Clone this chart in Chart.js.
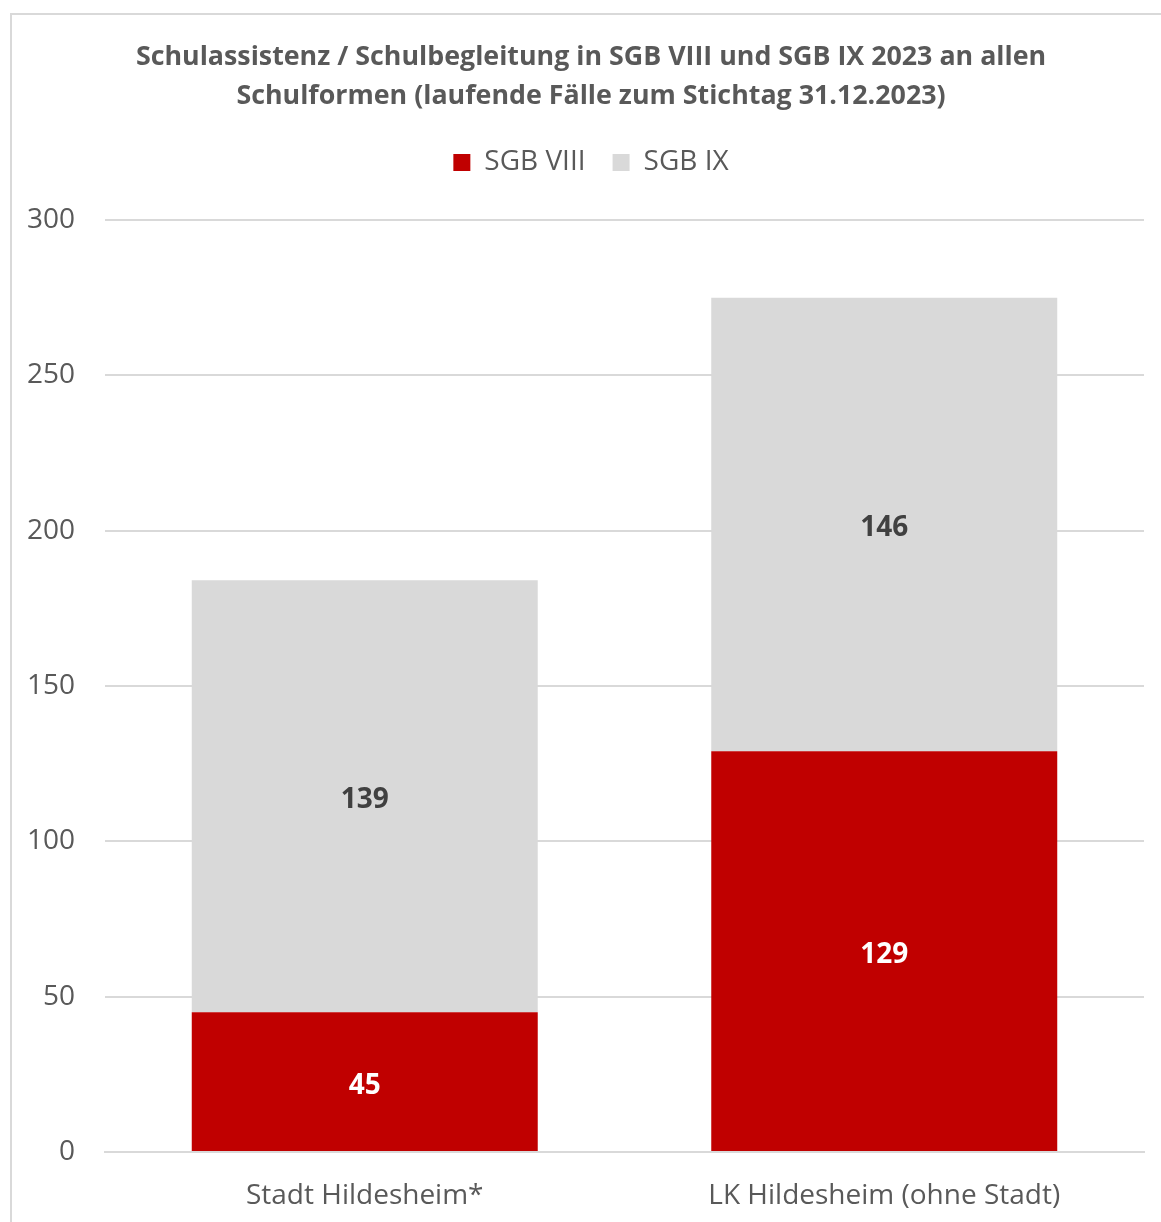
<!DOCTYPE html>
<html>
<head>
<meta charset="utf-8">
<script src="https://cdn.jsdelivr.net/npm/chart.js@4.4.1/dist/chart.umd.min.js"></script>
<style>
  html, body { margin: 0; padding: 0; background: #fff; overflow: hidden; width: 1161px; height: 1222px; }
  #frame { position: absolute; left: 10px; top: 13px; width: 1200px; height: 1300px; border: 2px solid #D9D9D9; box-sizing: border-box; }
  #wrap { position: absolute; left: -16px; top: 14px; width: 1214px; height: 1208px; }
</style>
</head>
<body>
<div id="frame"></div>
<div id="wrap"><canvas id="c" width="1214" height="1208"></canvas></div>
<script>
const titleLines = ['Schulassistenz / Schulbegleitung in SGB VIII und SGB IX 2023 an allen', 'Schulformen (laufende Fälle zum Stichtag 31.12.2023)'];
const categories = ['Stadt Hildesheim*', 'LK Hildesheim (ohne Stadt)'];
const seriesNames = ['SGB VIII', 'SGB IX'];
const sgb8 = [45, 129];
const sgb9 = [139, 146];
const yTicks = [0, 50, 100, 150, 200, 250, 300];

const FONT = "'Open Sans', sans-serif";
const TXT = '#595959';

const labelPlugin = {
  id: 'barLabels',
  afterDatasetsDraw(chart) {
    const ctx = chart.ctx;
    ctx.save();
    ctx.font = 'bold 28px ' + FONT;
    ctx.textAlign = 'center';
    ctx.textBaseline = 'middle';
    chart.data.datasets.forEach((ds, di) => {
      const meta = chart.getDatasetMeta(di);
      meta.data.forEach((bar, i) => {
        const p = bar.getProps(['x', 'y', 'base'], true);
        ctx.fillStyle = di === 0 ? '#FFFFFF' : '#404040';
        ctx.fillText(String(ds.data[i]), p.x, (p.y + p.base) / 2 + 4);
      });
    });
    ctx.restore();
  }
};

const spacerPlugin = {
  id: 'legendSpacer',
  beforeInit(chart) {
    const box = {
      position: 'top', weight: 500, fullSize: true,
      options: {},
      top: 0, left: 0, right: 0, bottom: 0, width: 0, height: 0,
      isHorizontal() { return true; },
      update(maxWidth) { this.width = maxWidth; this.height = 33.5; },
      draw() {}
    };
    Chart.layouts.addBox(chart, box);
  },
  afterLayout(chart) {
    [chart.titleBlock, chart.legend].forEach(b => {
      if (b) { b.left = 0; b.right = chart.width; b.width = chart.width; }
    });
  }
};

new Chart(document.getElementById('c'), {
  type: 'bar',
  data: {
    labels: categories,
    datasets: [
      { label: seriesNames[0], data: sgb8, backgroundColor: '#C00000', borderWidth: 0 },
      { label: seriesNames[1], data: sgb9, backgroundColor: '#D9D9D9', borderWidth: 0 }
    ]
  },
  options: {
    responsive: false,
    animation: false,
    devicePixelRatio: 1,
    layout: { padding: { left: 0, right: 54, top: 0, bottom: 0 } },
    datasets: { bar: { categoryPercentage: 0.666, barPercentage: 1.0 } },
    plugins: {
      title: {
        display: true,
        text: titleLines,
        color: TXT,
        font: { family: FONT, size: 26.8, weight: 'bold', lineHeight: 39 / 26.8 },
        padding: { top: 23.5, bottom: 6 }
      },
      legend: {
        display: true,
        labels: {
          color: TXT,
          font: { family: FONT, size: 28 },
          boxWidth: 17,
          boxHeight: 17,
          padding: 27,
          useBorderRadius: false
        }
      },
      tooltip: { enabled: false }
    },
    scales: {
      x: {
        stacked: true,
        grid: { display: false, drawTicks: false },
        border: { display: true, color: '#D9D9D9', width: 2 },
        ticks: { color: TXT, font: { family: FONT, size: 28 }, padding: 27 },
        afterFit(scale) { scale.height = 70; }
      },
      y: {
        stacked: true,
        min: 0,
        max: 300,
        afterBuildTicks(scale) { scale.ticks = yTicks.map(v => ({ value: v })); },
        grid: { color: '#D9D9D9', lineWidth: 2, drawTicks: false },
        border: { display: false },
        ticks: { color: TXT, font: { family: FONT, size: 28 }, padding: 30 },
        afterFit(scale) { scale.width = 121; }
      }
    }
  },
  plugins: [labelPlugin, spacerPlugin]
});
</script>
</body>
</html>
